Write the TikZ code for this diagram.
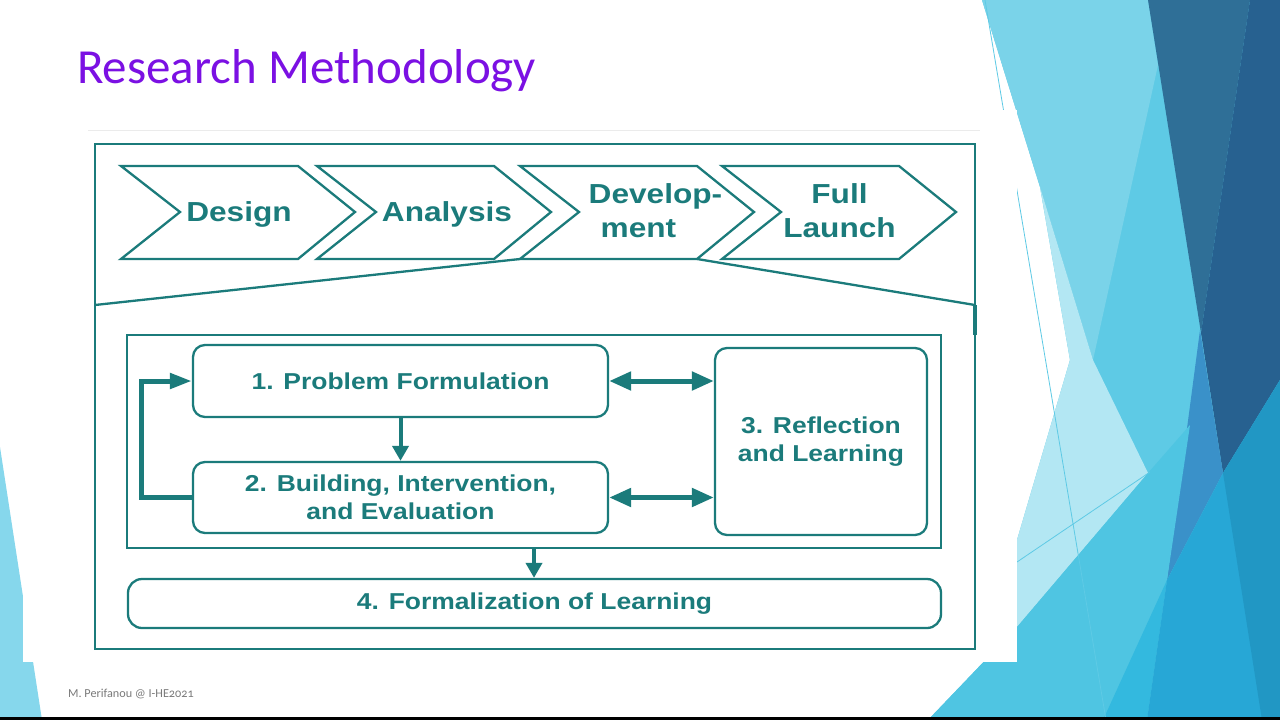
\documentclass[tikz,border=0pt]{standalone}
\usepackage{fontspec}
\setmainfont{Liberation Sans}
\newfontfamily\diagfont{Liberation Sans Bold}[FakeStretch=1.15]
\newfontfamily\titlefont{Carlito}
\newfontfamily\footfont{Carlito}[Numbers=OldStyle]
\usetikzlibrary{arrows.meta}
\definecolor{tealc}{HTML}{1B7B7B}
\definecolor{titlepurple}{HTML}{7B10E3}
\definecolor{footgrey}{HTML}{7A7A7A}
\definecolor{lcyan}{HTML}{7AD3E9}
\definecolor{mcyan}{HTML}{5ECAE5}
\definecolor{pale}{HTML}{B3E7F3}
\definecolor{darkA}{HTML}{2F6F97}
\definecolor{darkB}{HTML}{276190}
\definecolor{bluemid}{HTML}{3A91C9}
\definecolor{tealblue}{HTML}{27A7D6}
\definecolor{stripblue}{HTML}{2197C4}
\definecolor{cyanlow}{HTML}{4FC5E2}
\definecolor{cyanband}{HTML}{33B9DF}
\definecolor{leftblue}{HTML}{86D7EC}
\tikzset{
  framebox/.style={draw=tealc, line width=2.3pt, inner sep=0pt},
  chevron/.style={draw=tealc, line width=2.3pt, line join=miter},
  chevtext/.style={text=tealc, font=\diagfont\fontsize{27.5}{34}\selectfont, inner sep=0pt},
  stagebox/.style={draw=tealc, line width=2.3pt, rounded corners=12pt, inner sep=0pt, align=center, text=tealc, font=\diagfont\fontsize{23}{28}\selectfont},
  downarrow/.style={draw=tealc, line width=4pt, -{Triangle[length=15pt,width=16pt]}},
  looparrow/.style={draw=tealc, line width=5pt, line join=miter, -{Triangle[length=22pt,width=15pt]}},
  twoway/.style={draw=tealc, line width=5pt, {Triangle[length=22pt,width=18pt]}-{Triangle[length=22pt,width=18pt]}},
  thinline/.style={draw=mcyan, line width=0.8pt}
}
\begin{document}
\begin{tikzpicture}[x=1pt,y=-1pt]
\useasboundingbox (0,0) rectangle (1280,720);
\fill[white] (0,0) rectangle (1280,720);
% left decoration
\fill[leftblue] (0,447) -- (42,720) -- (0,720) -- cycle;
% right decoration
\fill[mcyan] (982,0) -- (1280,0) -- (1280,720) -- (928,720) -- (1017,627) -- (1017,540) -- (1070,360) -- (1040,187) -- cycle;
\fill[lcyan] (982,0) -- (1148,0) -- (1158,65) -- (1093,360) -- (1040,187) -- cycle;
\fill[pale] (1040,187) -- (1093,360) -- (1148,473) -- (1017,627) -- (1017,540) -- (1070,360) -- cycle;
\fill[darkA] (1148,0) -- (1250,0) -- (1201,333) -- cycle;
\fill[darkB] (1250,0) -- (1280,0) -- (1280,380) -- (1223,473) -- (1201,333) -- cycle;
\fill[bluemid] (1200,330) -- (1223,473) -- (1167,580) -- cycle;
\fill[cyanlow] (928,720) -- (1017,627) -- (1148,473) -- (1190,425) -- (1167,580) -- (1147,720) -- cycle;
\fill[cyanband] (1103,720) -- (1167,580) -- (1147,720) -- cycle;
\fill[tealblue] (1223,473) -- (1280,380) -- (1280,720) -- (1147,720) -- (1167,580) -- cycle;
\fill[stripblue] (1223,473) -- (1280,380) -- (1280,720) -- (1262,720) -- cycle;
\draw[thinline] (985,0) -- (1106,720);
\draw[thinline] (1017,562) -- (1150,472);
% picture area
\fill[white] (23,110) rectangle (1017,662);
\draw[black!8, line width=1pt] (88,130) -- (980,130);
% bottom bar
\fill[black] (0,717) rectangle (1280,720);
% title and footer
\node[anchor=base west, inner sep=0pt, text=titlepurple, font=\titlefont\fontsize{49}{58}\selectfont] (title) at (77,83) {Research Methodology};
\node[anchor=base west, inner sep=0pt, text=footgrey, font=\footfont\fontsize{12.2}{14}\selectfont] (footer) at (68,697) {M. Perifanou @ I-HE2021};
% outer frame
\node[framebox, minimum width=880pt, minimum height=505pt] (frame) at (535,396.5) {};
\draw[tealc, line width=4pt] (975,305) -- (975,335);
% chevrons
\foreach \L in {121,317,520,722}{
  \draw[chevron] (\L,166) -- ++(177,0) -- ++(57,46) -- ++(-57,47) -- ++(-177,0) -- ++(59,-47) -- cycle;
}
\node[chevtext, anchor=base] (design) at (239,221.7) {Design};
\node[chevtext, anchor=base] (analysis) at (447,221.7) {Analysis};
\node[chevtext, align=left] (development) at (655.5,211) {Develop-\\\hspace*{12pt}ment};
\node[chevtext, align=center] (launch) at (839.5,211) {Full\\Launch};
% zoom lines
\coordinate (zl) at (95,305);
\coordinate (zr) at (975,305);
\coordinate (c3bl) at (520,259);
\coordinate (c3br) at (697,259);
\draw[tealc, line width=2.3pt] (zl) -- (c3bl);
\draw[tealc, line width=2.3pt] (c3br) -- (zr);
% inner box
\node[framebox, minimum width=814pt, minimum height=213pt] (inner) at (534,441.5) {};
% stage boxes
\node[stagebox, minimum width=415pt, minimum height=72pt] (b1) at (400.5,381) {1. Problem Formulation};
\node[stagebox, minimum width=415pt, minimum height=71pt] (b2) at (400.5,497.5) {2. Building, Intervention,\\and Evaluation};
\node[stagebox, minimum width=212pt, minimum height=187pt] (b3) at (821,441.5) {3. Reflection\\and Learning};
\node[stagebox, rounded corners=14pt, minimum width=813pt, minimum height=49pt] (b4) at (534.5,603.5) {4. Formalization of Learning};
% connectors
\draw[downarrow] (b1.south) -- (b2.north);
\draw[looparrow] (b2.west) -- ++(-50,0) |- (b1.west);
\draw[twoway] (b1.east) -- (b1.east -| b3.west);
\draw[twoway] (b2.east) -- (b2.east -| b3.west);
\draw[downarrow] (inner.south) -- (inner.south |- b4.north);
\end{tikzpicture}
\end{document}
